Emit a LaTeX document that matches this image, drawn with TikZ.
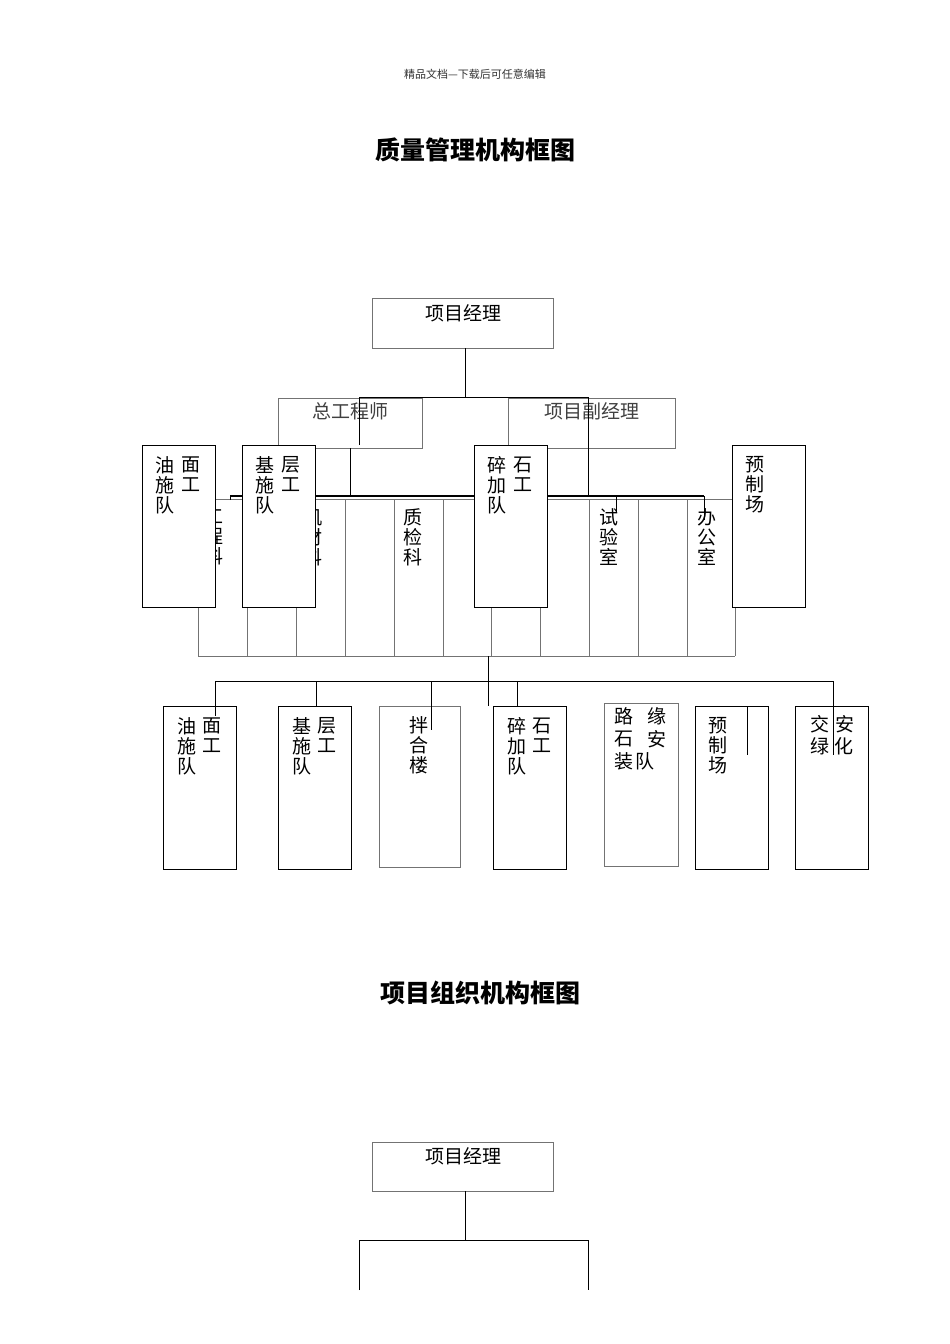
\documentclass[tikz,border=0pt]{standalone}
\usepackage{fontspec}
\setmainfont{Noto Sans CJK SC}
\begin{document}
\begin{tikzpicture}[x=1pt,y=-1pt,
  ln/.style={draw=black,line width=0.9pt},
  gl/.style={draw=black!55,line width=0.8pt},
  bx/.style={draw=black,line width=1pt,fill=white},
  gbx/.style={draw=black!55,line width=1pt,fill=white},
  tx/.style={font=\fontsize{19}{20}\selectfont,inner sep=0pt},
  gtx/.style={font=\fontsize{19}{20}\selectfont,inner sep=0pt,text=black!75}]
\useasboundingbox (0,0) rectangle (950,1344);
\node[font=\fontsize{11}{12}\selectfont,text=black!80] (hdr) at (475,74) {精品文档---下载后可任意编辑};
\node[font=\fontsize{25}{26}\selectfont\bfseries] (t1) at (475,150) {质量管理机构框图};
% top
\node[gbx,minimum width=181pt,minimum height=50pt] (pm) at (462.5,323) {};
\node[tx] (pmt) at (463,313) {项目经理};
\draw[ln] (465,348) -- (465,397);
\node[gbx,minimum width=144pt,minimum height=50pt] (zg) at (350,423) {};
\node[gtx] (zgt) at (350,411) {总工程师};
\node[gbx,minimum width=167pt,minimum height=50pt] (fj) at (591.5,423) {};
\node[gtx] (fjt) at (592,411) {项目副经理};
\draw[ln] (359,445) -- (359,397) -- (588,397) -- (588,496);
\draw[ln] (350,448) -- (350,496);
% horizontal bars
\draw[gl] (215,499) -- (733,499);
\draw[ln,line width=1.4pt] (230,496) -- (704,496);
\draw[ln] (230,496) -- (230,500);
\draw[ln] (616,496) -- (616,512);
\draw[ln] (704,496) -- (704,520);
% columns
\foreach \x in {345,394,443,589,638,687} \draw[gl] (\x,499) -- (\x,656);
\foreach \x in {198,247,296,491,540,735} \draw[gl] (\x,607) -- (\x,656);
\draw[gl] (198,656) -- (735,656);
% hidden column texts
\node[tx,align=center] (gck) at (214,537) {工\\程\\科};
\node[tx,align=center] (jck) at (313,537) {机\\材\\科};
\node[tx,align=center] (zjk) at (413,537) {质\\检\\科};
\node[tx,align=center] (syk) at (609,537) {试\\验\\室};
\node[tx,align=center] (bgs) at (707,537) {办\\公\\室};
% tall boxes
\node[bx,minimum width=73pt,minimum height=162pt] (a1) at (178.5,526) {};
\node[tx,align=center] at (165,485) {油\\施\\队};
\node[tx,align=center] at (191,474) {面\\工};
\node[bx,minimum width=73pt,minimum height=162pt] (a2) at (278.5,526) {};
\node[tx,align=center] at (265,485) {基\\施\\队};
\node[tx,align=center] at (291,474) {层\\工};
\node[bx,minimum width=73pt,minimum height=162pt] (a3) at (510.5,526) {};
\node[tx,align=center] at (497,485) {碎\\加\\队};
\node[tx,align=center] at (523,474) {石\\工};
\node[bx,minimum width=73pt,minimum height=162pt] (a4) at (768.5,526) {};
\node[tx,align=center] at (755,485) {预\\制\\场};
% lower connectors
\draw[ln] (488,656) -- (488,706);
\draw[ln] (215,681) -- (833,681);
\draw[ln] (215,681) -- (215,716);
\draw[ln] (316,681) -- (316,706);
\draw[ln] (517,681) -- (517,706);
% bottom boxes
\node[bx,minimum width=73pt,minimum height=163pt] (b1) at (199.5,787.5) {};
\node[tx,align=center] at (187,746) {油\\施\\队};
\node[tx,align=center] at (212,735) {面\\工};
\draw[ln] (215,706) -- (215,716);
\node[bx,minimum width=73pt,minimum height=163pt] (b2) at (314.5,787.5) {};
\node[tx,align=center] at (302,746) {基\\施\\队};
\node[tx,align=center] at (327,735) {层\\工};
\node[gbx,minimum width=81pt,minimum height=161pt] (b3) at (419.5,786.5) {};
\node[tx,align=center] at (419,745) {拌\\合\\楼};
\draw[ln] (431,681) -- (431,730);
\node[bx,minimum width=73pt,minimum height=163pt] (b4) at (529.5,787.5) {};
\node[tx,align=center] at (517,746) {碎\\加\\队};
\node[tx,align=center] at (542,735) {石\\工};
\node[gbx,minimum width=74pt,minimum height=163pt] (b5) at (641,784.5) {};
\node[tx] at (624,716) {路};
\node[tx] at (657,716) {缘};
\node[tx] at (624,739) {石};
\node[tx] at (657,739) {安};
\node[tx] at (624,761) {装};
\node[tx] at (645,761) {队};
\node[bx,minimum width=73pt,minimum height=163pt] (b6) at (731.5,787.5) {};
\node[tx,align=center] at (718,746) {预\\制\\场};
\draw[ln] (747,706) -- (747,755);
\node[bx,minimum width=73pt,minimum height=163pt] (b7) at (831.5,787.5) {};
\node[tx] at (820,724) {交};
\node[tx] at (845,724) {安};
\node[tx] at (820,746) {绿};
\node[tx] at (844,746) {化};
\draw[ln] (833,681) -- (833,755);
% second chart
\node[font=\fontsize{25}{26}\selectfont\bfseries] (t2) at (480,993) {项目组织机构框图};
\node[gbx,minimum width=181pt,minimum height=49pt] (pm2) at (462.5,1166.5) {};
\node[tx] (pm2t) at (463,1156) {项目经理};
\draw[ln] (465,1191) -- (465,1240);
\draw[ln] (359,1290) -- (359,1240) -- (588,1240) -- (588,1290);
\end{tikzpicture}
\end{document}
